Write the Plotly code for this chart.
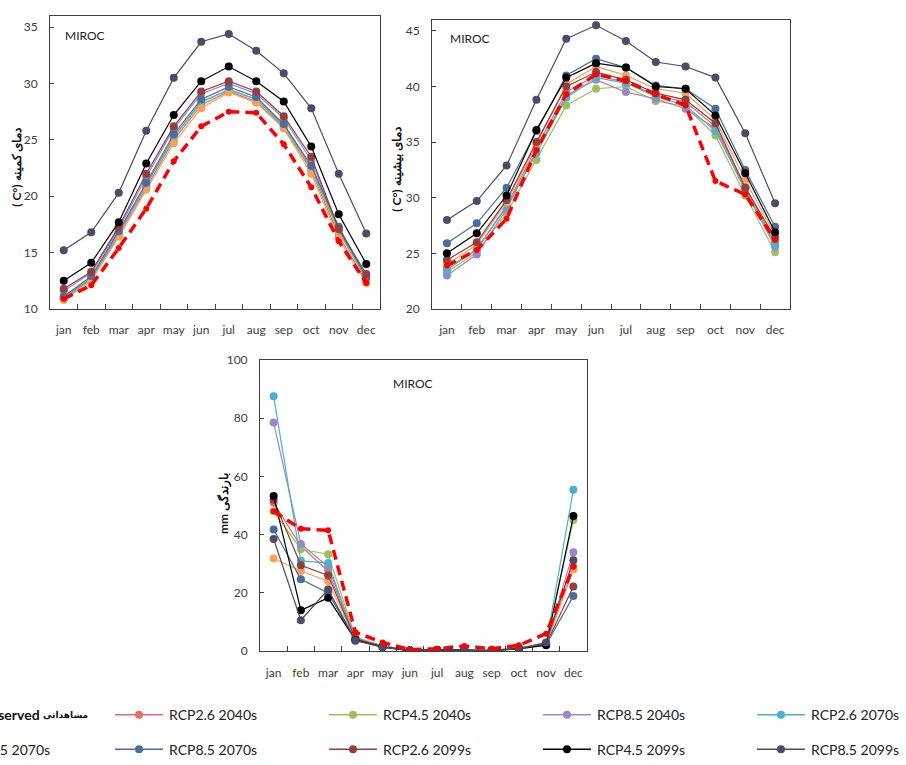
import plotly.graph_objects as go

W, H = 906, 765

months = ["jan", "feb", "mar", "apr", "may", "jun", "jul", "aug", "sep", "oct", "nov", "dec"]

series_names = ["Observed", "RCP2.6 2040s", "RCP4.5 2040s", "RCP8.5 2040s", "RCP2.6 2070s",
                "RCP4.5 2070s", "RCP8.5 2070s", "RCP2.6 2099s", "RCP4.5 2099s", "RCP8.5 2099s"]
series_colors = ["#FF0000", "#DC6F6B", "#9DC15A", "#9C86C6", "#4BB0CC",
                 "#F8A05A", "#4A6D9B", "#943F3D", "#000000", "#4F4A66"]

# minimum temperature (C)
tmin_obs        = [10.9, 12.1, 15.4, 18.9, 23.1, 26.2, 27.5, 27.4, 24.6, 20.8, 16.0, 12.3]
tmin_rcp26_2040 = [10.9, 12.6, 16.5, 20.8, 25.0, 28.1, 29.3, 28.4, 26.1, 22.3, 16.5, 12.4]
tmin_rcp45_2040 = [11.0, 12.8, 16.8, 21.0, 25.2, 28.3, 29.5, 28.6, 26.2, 22.5, 16.8, 12.7]
tmin_rcp85_2040 = [11.6, 13.2, 17.1, 21.7, 26.0, 29.1, 30.0, 29.1, 26.9, 23.2, 17.0, 13.0]
tmin_rcp26_2070 = [11.0, 12.7, 16.7, 21.0, 25.3, 28.4, 29.4, 28.6, 26.3, 22.6, 17.0, 12.6]
tmin_rcp45_2070 = [10.8, 12.5, 16.4, 20.6, 24.7, 27.8, 29.2, 28.3, 26.0, 22.0, 16.2, 12.3]
tmin_rcp85_2070 = [11.1, 12.9, 16.9, 21.2, 25.5, 28.6, 29.7, 28.8, 26.4, 22.7, 17.3, 12.8]
tmin_rcp26_2099 = [11.8, 13.3, 17.3, 22.0, 26.2, 29.3, 30.2, 29.3, 27.1, 23.5, 17.1, 13.1]
tmin_rcp45_2099 = [12.5, 14.1, 17.7, 22.9, 27.2, 30.2, 31.5, 30.2, 28.4, 24.4, 18.4, 14.0]
tmin_rcp85_2099 = [15.2, 16.8, 20.3, 25.8, 30.5, 33.7, 34.4, 32.9, 30.9, 27.8, 22.0, 16.7]

# maximum temperature (C)
tmax_obs        = [23.9, 25.3, 28.1, 34.3, 39.3, 41.1, 40.5, 39.3, 38.3, 31.5, 30.3, 26.2]
tmax_rcp26_2040 = [23.7, 25.3, 29.3, 34.5, 39.5, 41.0, 40.4, 39.2, 38.6, 36.4, 31.0, 26.0]
tmax_rcp45_2040 = [23.3, 25.1, 28.6, 33.4, 38.3, 39.8, 40.0, 38.7, 38.2, 35.6, 30.2, 25.1]
tmax_rcp85_2040 = [23.0, 24.9, 29.0, 34.2, 39.2, 40.6, 39.5, 38.9, 38.0, 36.2, 30.6, 25.6]
tmax_rcp26_2070 = [23.5, 25.4, 29.2, 34.0, 39.0, 40.8, 40.3, 39.1, 38.3, 36.0, 30.8, 25.8]
tmax_rcp45_2070 = [24.0, 25.8, 29.6, 34.8, 40.2, 41.8, 41.0, 39.8, 39.4, 37.0, 31.6, 26.6]
tmax_rcp85_2070 = [25.9, 27.7, 30.9, 36.0, 41.0, 42.5, 41.7, 40.1, 39.8, 38.0, 32.5, 27.4]
tmax_rcp26_2099 = [24.4, 26.0, 29.8, 35.0, 40.0, 41.3, 40.6, 39.4, 38.8, 36.7, 30.9, 26.4]
tmax_rcp45_2099 = [25.0, 26.8, 30.2, 36.1, 40.8, 42.1, 41.7, 40.0, 39.8, 37.4, 32.2, 26.9]
tmax_rcp85_2099 = [28.0, 29.7, 32.9, 38.8, 44.3, 45.5, 44.1, 42.2, 41.8, 40.8, 35.8, 29.5]

# precipitation (mm)
pr_obs        = [48.0, 42.0, 41.5, 6.5, 3.0, 0.5, 0.8, 1.8, 0.8, 2.0, 6.0, 29.0]
pr_rcp26_2040 = [51.0, 36.0, 27.5, 4.5, 1.8, 0.3, 0.5, 0.3, 0.3, 1.2, 2.5, 29.0]
pr_rcp45_2040 = [48.0, 35.0, 33.3, 4.8, 1.8, 0.3, 0.5, 0.3, 0.3, 1.0, 2.5, 45.0]
pr_rcp85_2040 = [78.5, 36.8, 29.0, 4.5, 1.7, 0.2, 0.4, 0.2, 0.2, 1.0, 2.8, 34.0]
pr_rcp26_2070 = [87.5, 31.0, 30.3, 4.0, 1.5, 0.2, 0.4, 0.2, 0.2, 1.0, 2.5, 55.4]
pr_rcp45_2070 = [31.8, 27.5, 24.0, 4.0, 1.5, 0.2, 0.4, 0.2, 0.2, 0.9, 2.3, 28.0]
pr_rcp85_2070 = [41.8, 24.7, 20.0, 3.8, 1.5, 0.2, 0.4, 0.2, 0.2, 0.9, 2.2, 18.9]
pr_rcp26_2099 = [52.0, 29.5, 26.0, 4.2, 1.6, 0.2, 0.4, 0.2, 0.2, 1.0, 2.4, 22.2]
pr_rcp45_2099 = [53.3, 14.0, 18.3, 3.8, 1.4, 0.2, 0.4, 0.2, 0.2, 0.8, 2.0, 46.4]
pr_rcp85_2099 = [38.5, 10.6, 21.2, 3.6, 1.4, 0.2, 0.3, 0.2, 0.2, 0.8, 3.0, 31.2]

tmin_all = [tmin_obs, tmin_rcp26_2040, tmin_rcp45_2040, tmin_rcp85_2040, tmin_rcp26_2070,
            tmin_rcp45_2070, tmin_rcp85_2070, tmin_rcp26_2099, tmin_rcp45_2099, tmin_rcp85_2099]
tmax_all = [tmax_obs, tmax_rcp26_2040, tmax_rcp45_2040, tmax_rcp85_2040, tmax_rcp26_2070,
            tmax_rcp45_2070, tmax_rcp85_2070, tmax_rcp26_2099, tmax_rcp45_2099, tmax_rcp85_2099]
pr_all = [pr_obs, pr_rcp26_2040, pr_rcp45_2040, pr_rcp85_2040, pr_rcp26_2070,
          pr_rcp45_2070, pr_rcp85_2070, pr_rcp26_2099, pr_rcp45_2099, pr_rcp85_2099]

FONT = "Lato"
OBS_DASH = "10px,6px"
fig = go.Figure()

def add_panel(data, xa, ya):
    order = list(range(1, len(series_names))) + [0]  # observed drawn on top
    for i in order:
        if i == 0:
            line = dict(color=series_colors[i], width=3.5, dash=OBS_DASH)
            marker = dict(color=series_colors[i], size=6)
        else:
            line = dict(color=series_colors[i], width=1.2)
            marker = dict(color=series_colors[i], size=8)
        fig.add_trace(go.Scatter(x=months, y=data[i], mode="lines+markers", name=series_names[i],
                                 line=line, marker=marker, xaxis=xa, yaxis=ya, showlegend=False))

add_panel(tmin_all, "x", "y")
add_panel(tmax_all, "x2", "y2")
add_panel(pr_all, "x3", "y3")

def px_x(v):
    return v / W

def px_y(v):
    return 1 - v / H

xcommon = dict(type="category", categoryorder="array", categoryarray=months, range=[-0.5, 11.5],
               tickson="boundaries", ticks="inside", ticklen=5, tickcolor="#404040", tickangle=0,
               showline=True, linecolor="#404040", linewidth=1, mirror=True,
               showgrid=False, zeroline=False, ticklabelstandoff=10,
               tickfont=dict(family=FONT, size=12, color="#404040"))
ycommon = dict(ticks="inside", ticklen=4, tickcolor="#404040",
               showline=True, linecolor="#404040", linewidth=1, mirror=True,
               showgrid=False, zeroline=False, ticklabelstandoff=9,
               tickfont=dict(family=FONT, size=12, color="#404040"))

fig.update_layout(
    width=W, height=H, margin=dict(l=0, r=0, t=0, b=0),
    paper_bgcolor="white", plot_bgcolor="white",
    showlegend=False,
    xaxis=dict(xcommon, domain=[px_x(50), px_x(380)], anchor="y"),
    yaxis=dict(ycommon, domain=[px_y(307), px_y(8)], range=[10, 36], tick0=10, dtick=5, anchor="x"),
    xaxis2=dict(xcommon, domain=[px_x(432), px_x(790)], anchor="y2"),
    yaxis2=dict(ycommon, domain=[px_y(307), px_y(12)], range=[20, 46], tick0=20, dtick=5, anchor="x2"),
    xaxis3=dict(xcommon, domain=[px_x(260), px_x(587)], anchor="y3"),
    yaxis3=dict(ycommon, domain=[px_y(656), px_y(359)], range=[0, 100], tick0=0, dtick=20, anchor="x3"),
)

annotations = []
# panel labels
for (x, y, anchor) in [(63, 28, "left"), (448, 31, "left"), (413, 383, "center")]:
    annotations.append(dict(text="MIROC", x=px_x(x), y=px_y(y), xref="paper", yref="paper",
                            xanchor=anchor, yanchor="middle", showarrow=False,
                            font=dict(family=FONT, size=12, color="#222")))
# y-axis titles
ytitles = [("<b>( C°) دمای کمینه</b>", 17, 163),
           ("<b>( C°) دمای بیشینه</b>", 397, 165),
           ("<b>mm بارندگی</b>", 224, 506)]
for (t, x, y) in ytitles:
    annotations.append(dict(text=t, x=px_x(x), y=px_y(y), xref="paper", yref="paper",
                            xanchor="center", yanchor="middle", textangle=-90, showarrow=False,
                            font=dict(family=FONT, size=12, color="#111")))

# legend (drawn manually; like the source it is wider than the page and cut on the left)
shapes = []
col_w = 214
first_line_x = -99
row_y = [721, 756]
for i, (name, color) in enumerate(zip(series_names, series_colors)):
    c, r = i % 5, i // 5
    x0 = first_line_x + col_w * c
    y = row_y[r]
    shapes.append(dict(type="line", xref="paper", yref="paper",
                       x0=px_x(x0), x1=px_x(x0 + 48), y0=px_y(y), y1=px_y(y),
                       line=dict(color=color, width=2.5 if i == 0 else 1.5,
                                 dash=OBS_DASH if i == 0 else "solid")))
    shapes.append(dict(type="circle", xref="paper", yref="paper", xsizemode="pixel", ysizemode="pixel",
                       xanchor=px_x(x0 + 24), yanchor=px_y(y), x0=-4, x1=4, y0=-4, y1=4,
                       fillcolor=color, line=dict(width=0)))
    if i == 0:
        annotations.append(dict(text="<b>Observed</b>", x=px_x(42), y=px_y(y), xref="paper", yref="paper",
                                xanchor="right", yanchor="middle", showarrow=False,
                                font=dict(family=FONT, size=14, color="#111")))
        annotations.append(dict(text="<b>مشاهداتی</b>", x=px_x(90), y=px_y(y), xref="paper", yref="paper",
                                xanchor="right", yanchor="middle", showarrow=False,
                                font=dict(family="DejaVu Sans", size=9, color="#111")))
    elif c == 0:
        annotations.append(dict(text=name, x=px_x(52), y=px_y(y), xref="paper", yref="paper",
                                xanchor="right", yanchor="middle", showarrow=False,
                                font=dict(family=FONT, size=14, color="#222")))
    else:
        annotations.append(dict(text=name, x=px_x(x0 + 52), y=px_y(y), xref="paper", yref="paper",
                                xanchor="left", yanchor="middle", showarrow=False,
                                font=dict(family=FONT, size=14, color="#222")))

fig.update_layout(annotations=annotations, shapes=shapes)
fig.write_html("out.html")
